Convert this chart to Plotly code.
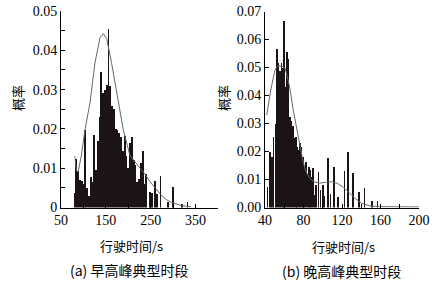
import plotly.graph_objects as go

# ---- data: (a) morning peak ----
a_x = [80, 84, 88, 92, 96, 100, 104, 108, 112, 116, 120, 124, 128, 132, 136, 140, 144, 148, 152, 156,
       160, 164, 168, 172, 176, 180, 184, 188, 192, 196, 200, 204, 208, 212, 216, 220, 224, 228, 232,
       236, 240, 248, 252, 260, 264, 272, 288, 300, 320, 332]
a_y = [0.0038, 0.0123, 0.0092, 0.0069, 0.0068, 0.0060, 0.0197, 0.0050, 0.0030, 0.0078, 0.0065, 0.0185,
       0.0095, 0.0170, 0.0230, 0.0346, 0.0292, 0.0300, 0.0312, 0.0455, 0.0310, 0.0258, 0.0250, 0.0200,
       0.0197, 0.0190, 0.0180, 0.0143, 0.0181, 0.0130, 0.0100, 0.0164, 0.0180, 0.0121, 0.0108, 0.0066,
       0.0072, 0.0112, 0.0145, 0.0060, 0.0086, 0.0040, 0.0038, 0.0068, 0.0035, 0.0079, 0.0015, 0.0053,
       0.0009, 0.0014]
a_fit_x = [81, 84, 88, 95, 103.5, 114.6, 125.7, 136.9, 144.2, 151.8, 162.9, 174, 188.8, 203.7, 222,
           237, 251, 262, 273, 285, 296, 318, 340]
a_fit_y = [0.013, 0.0095, 0.009, 0.013, 0.0198, 0.0266, 0.0368, 0.0432, 0.0442, 0.043, 0.0367, 0.0292,
           0.0198, 0.0132, 0.0106, 0.0085, 0.0062, 0.0046, 0.0032, 0.002, 0.0013, 0.0005, 0.0002]

# ---- data: (b) evening peak ----
b_x = [42.5, 45, 47, 49, 51, 52.5, 54, 55.5, 57, 58.5, 60, 61.5, 63, 64.5, 66, 67.5, 69, 70.5, 72, 73.5,
       75, 76.5, 78, 79.5, 81, 82.5, 84, 85.5, 87, 88.5, 90, 91.5, 93, 95.5, 97.5, 100, 102, 105.5, 108,
       111.5, 116, 122.5, 126.5, 131.5, 137.5, 143.5, 151, 157]
b_y = [0.0075, 0.0200, 0.0180, 0.0253, 0.0300, 0.0566, 0.0516, 0.0486, 0.0516, 0.0500, 0.0666, 0.0430,
       0.0556, 0.0530, 0.0325, 0.0310, 0.0290, 0.0247, 0.0253, 0.0217, 0.0205, 0.0230, 0.0217, 0.0180,
       0.0146, 0.0163, 0.0120, 0.0146, 0.0134, 0.0110, 0.0140, 0.0044, 0.0080, 0.0128, 0.0062, 0.0080,
       0.0040, 0.0176, 0.0050, 0.0143, 0.0036, 0.0130, 0.0197, 0.0124, 0.0056, 0.0068, 0.0023, 0.0023]
b_fit_x = [41.8, 46, 50.3, 53, 57, 60.6, 63, 65.8, 69.2, 73, 76.1, 79.2, 82.3, 86.4, 90.6, 96.8, 103,
           109.1, 115.3, 121.5, 127.7, 133.9, 140.1, 148.4, 158.7, 180, 200]
b_fit_y = [0.033, 0.042, 0.049, 0.0505, 0.0505, 0.050, 0.047, 0.0427, 0.035, 0.028, 0.022, 0.017, 0.013,
           0.0105, 0.0092, 0.0087, 0.009, 0.0092, 0.0086, 0.0072, 0.0052, 0.0032, 0.0016, 0.0006, 0.0003,
           0.0002, 0.0002]

a_xticks = [50, 150, 250, 350]
b_xticks = [40, 80, 120, 160, 200]
a_yticks = [0, 0.01, 0.02, 0.03, 0.04, 0.05]
a_ytext = ["0", "0.01", "0.02", "0.03", "0.04", "0.05"]
b_yticks = [0, 0.01, 0.02, 0.03, 0.04, 0.05, 0.06, 0.07]
b_ytext = ["0.00", "0.01", "0.02", "0.03", "0.04", "0.05", "0.06", "0.07"]

BAR = "#1c1414"
FIT = "#666666"
SERIF = "Liberation Serif"
CJK = "Noto Sans CJK SC"

fig = go.Figure()
fig.add_trace(go.Bar(x=a_x, y=a_y, width=[4] * len(a_x), marker=dict(color=BAR, line=dict(width=0)),
                     xaxis="x", yaxis="y", showlegend=False))
fig.add_trace(go.Scatter(x=a_fit_x, y=a_fit_y, mode="lines", line=dict(color=FIT, width=1),
                         xaxis="x", yaxis="y", showlegend=False))
fig.add_trace(go.Bar(x=b_x, y=b_y, width=[1.6] * len(b_x), marker=dict(color=BAR, line=dict(width=0)),
                     xaxis="x2", yaxis="y2", showlegend=False))
fig.add_trace(go.Scatter(x=b_fit_x, y=b_fit_y, mode="lines", line=dict(color=FIT, width=1),
                         xaxis="x2", yaxis="y2", showlegend=False))

W, H = 434, 281
ax_common = dict(showgrid=False, zeroline=False, showline=True, linecolor="black", linewidth=1,
                 ticks="inside", ticklen=4, tickcolor="black", tickwidth=1, automargin=False,
                 tickfont=dict(family=SERIF, size=14, color="black"))

fig.update_layout(
    template="none",
    width=W, height=H, margin=dict(l=0, r=0, t=0, b=0, pad=0),
    paper_bgcolor="white", plot_bgcolor="white", bargap=0,
    xaxis=dict(domain=[61 / W, 218 / W], range=[50, 400], tickvals=a_xticks,
               minor=dict(dtick=50, tick0=50, ticks="inside", ticklen=4, tickcolor="black"),
               anchor="y", **ax_common),
    yaxis=dict(domain=[1 - 207.5 / H, 1 - 11 / H], range=[0, 0.05], tickvals=a_yticks, ticktext=a_ytext,
               minor=dict(dtick=0.005, tick0=0, ticks="inside", ticklen=4, tickcolor="black"),
               anchor="x", **ax_common),
    xaxis2=dict(domain=[265 / W, 419 / W], range=[40, 200], tickvals=b_xticks,
                minor=dict(dtick=20, tick0=40, ticks="inside", ticklen=4, tickcolor="black"),
                anchor="y2", **ax_common),
    yaxis2=dict(domain=[1 - 207.5 / H, 1 - 11.5 / H], range=[0, 0.07], tickvals=b_yticks, ticktext=b_ytext,
                anchor="x2", **ax_common),
)

ann = [
    dict(text="概率", x=17, y=98, textangle=-90, size=13),
    dict(text="概率", x=223, y=98, textangle=-90, size=13),
    dict(text="行驶时间/s", x=131, y=245, textangle=0, size=13),
    dict(text="行驶时间/s", x=343, y=246, textangle=0, size=13),
    dict(text="(a) 早高峰典型时段", x=129, y=270, textangle=0, size=14),
    dict(text="(b) 晚高峰典型时段", x=341, y=271, textangle=0, size=14),
]
for a in ann:
    fig.add_annotation(text=a["text"], x=a["x"] / W, y=1 - a["y"] / H, xref="paper", yref="paper",
                       showarrow=False, textangle=a["textangle"], xanchor="center", yanchor="middle",
                       font=dict(family=CJK, size=a["size"], color="black"))

fig.write_html("out.html", config={"displayModeBar": False, "staticPlot": True},
               post_script="document.body.style.margin='0';document.body.style.overflow='hidden';")
